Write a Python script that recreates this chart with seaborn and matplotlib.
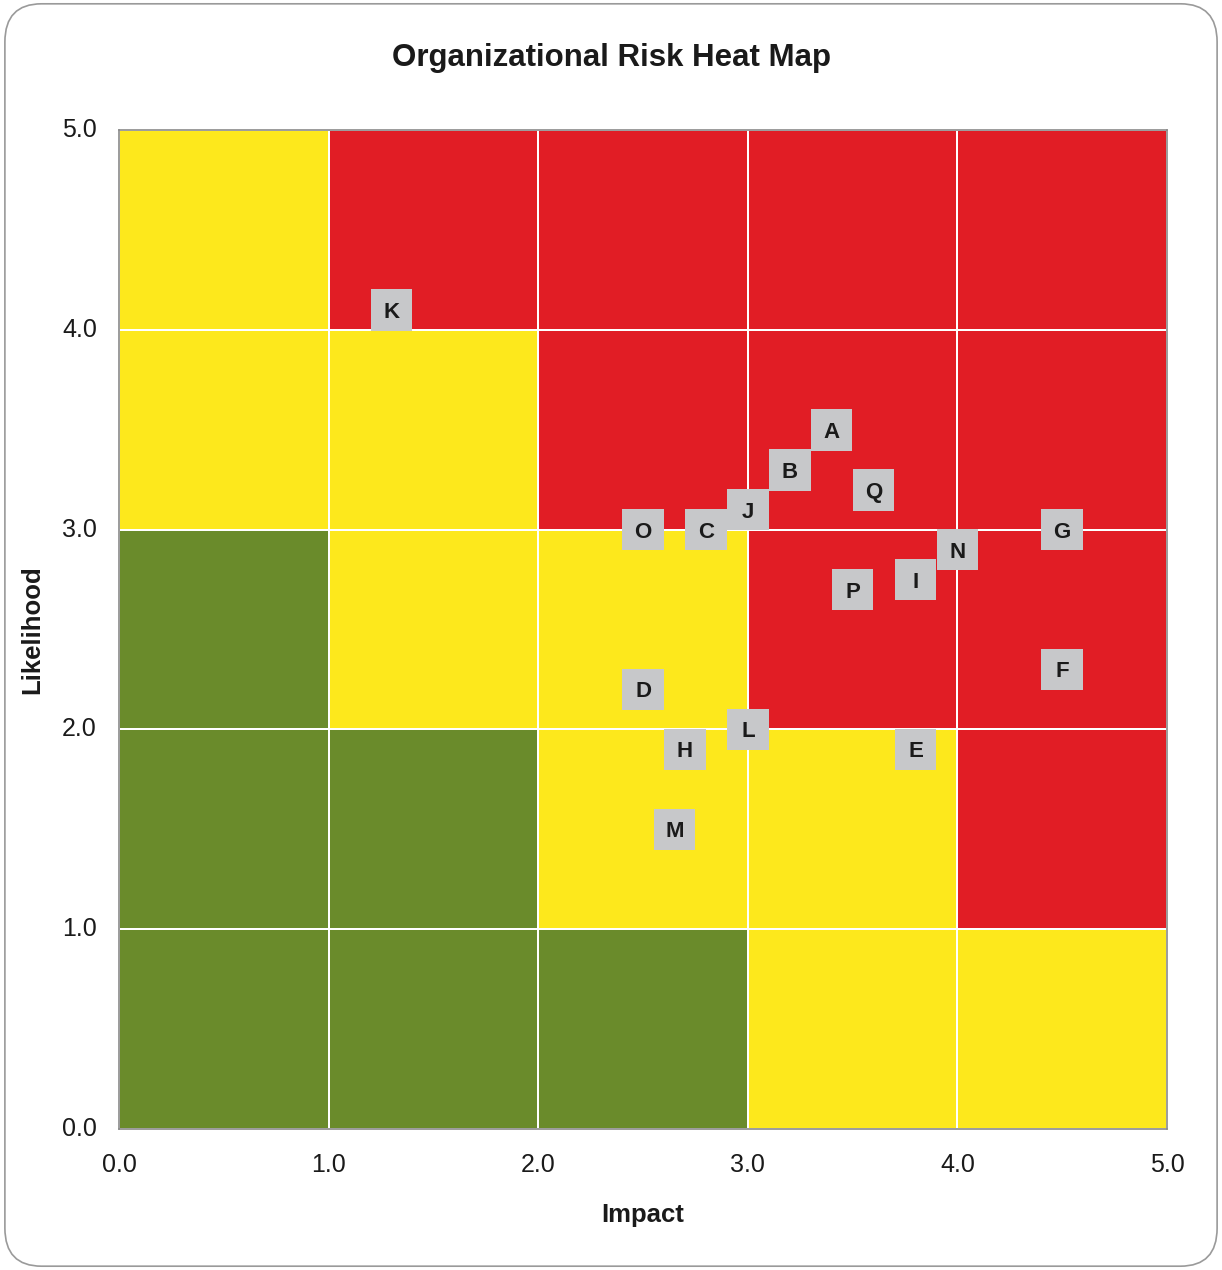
import numpy as np
import pandas as pd
import matplotlib
matplotlib.use("Agg")
import matplotlib.pyplot as plt
import seaborn as sns
from matplotlib.colors import ListedColormap
from matplotlib.patches import FancyBboxPatch

#--------------------------------Data----------------------------#
impact_ticks = [0.0, 1.0, 2.0, 3.0, 4.0, 5.0]
likelihood_ticks = [0.0, 1.0, 2.0, 3.0, 4.0, 5.0]

# risk level per cell: rows go from likelihood 0-1 (bottom) to 4-5 (top)
# 0 = low (green), 1 = medium (yellow), 2 = high (red)
risk_grid = [
    [0, 0, 0, 1, 1],
    [0, 0, 1, 1, 2],
    [0, 1, 1, 2, 2],
    [1, 1, 2, 2, 2],
    [1, 2, 2, 2, 2],
]

risk_ids = ["K", "A", "B", "Q", "J", "O", "C", "G", "N", "I", "P", "F", "D", "L", "H", "E", "M"]
risk_impact = [1.3, 3.4, 3.2, 3.6, 3.0, 2.5, 2.8, 4.5, 4.0, 3.8, 3.5, 4.5, 2.5, 3.0, 2.7, 3.8, 2.65]
risk_likelihood = [4.1, 3.5, 3.3, 3.2, 3.1, 3.0, 3.0, 3.0, 2.9, 2.75, 2.7, 2.3, 2.2, 2.0, 1.9, 1.9, 1.5]

#--------------------------------Style----------------------------#
sns.set_theme(style="white")
plt.rcParams['font.family'] = ['Liberation Sans', 'DejaVu Sans']

zone_colors = ["#6a8b2b", "#fde81c", "#e11d25"]

fig = plt.figure(figsize=(12.22, 12.70), dpi=100)
ax = fig.add_axes([0.0974, 0.111, 0.8576, 0.7866])

grid_df = pd.DataFrame(risk_grid)
sns.heatmap(grid_df, cmap=ListedColormap(zone_colors), vmin=0, vmax=2,
            cbar=False, linewidths=1.2, linecolor="white", ax=ax)
ax.set_xlim(0, 5)
ax.set_ylim(0, 5)

# risk markers
sns.scatterplot(x=risk_impact, y=risk_likelihood, marker="s", s=900,
                color="#c7c8ca", edgecolor="none", ax=ax, zorder=3, legend=False)
for rid, xi, yi in zip(risk_ids, risk_impact, risk_likelihood):
    ax.text(xi, yi, rid, ha="center", va="center_baseline", fontsize=16,
            fontweight="bold", color="#1a1a1a", zorder=4)

# ticks and labels
ax.set_xticks(impact_ticks)
ax.set_xticklabels([f"{t:.1f}" for t in impact_ticks], rotation=0)
ax.set_yticks(likelihood_ticks)
ax.set_yticklabels([f"{t:.1f}" for t in likelihood_ticks], rotation=0)
ax.tick_params(axis="x", length=0, pad=17, labelsize=18, colors="#1a1a1a")
ax.tick_params(axis="y", length=0, pad=16, labelsize=18, colors="#1a1a1a")

ax.set_xlabel("Impact", fontsize=18.5, fontweight="bold", color="#1a1a1a")
ax.set_ylabel("Likelihood", fontsize=18.5, fontweight="bold", color="#1a1a1a")
ax.xaxis.set_label_coords(0.5, -0.086)
ax.yaxis.set_label_coords(-0.083, 0.5)
ax.xaxis.label.set_va("center")
ax.yaxis.label.set_va("center")

for sp in ax.spines.values():
    sp.set_visible(True)
    sp.set_color("#8a8a8a")
    sp.set_linewidth(1.2)

fig.text(0.5008, 0.954, "Organizational Risk Heat Map", ha="center", va="center",
         fontsize=22.5, fontweight="bold", color="#1a1a1a")

# rounded card border
fig.patches.append(FancyBboxPatch((0.004, 0.003), 0.992, 0.994,
                                  boxstyle="round,pad=0,rounding_size=0.03",
                                  transform=fig.transFigure, fill=False,
                                  ec="#9a9a9a", lw=1.2))

fig.savefig("out.png", dpi=100)
